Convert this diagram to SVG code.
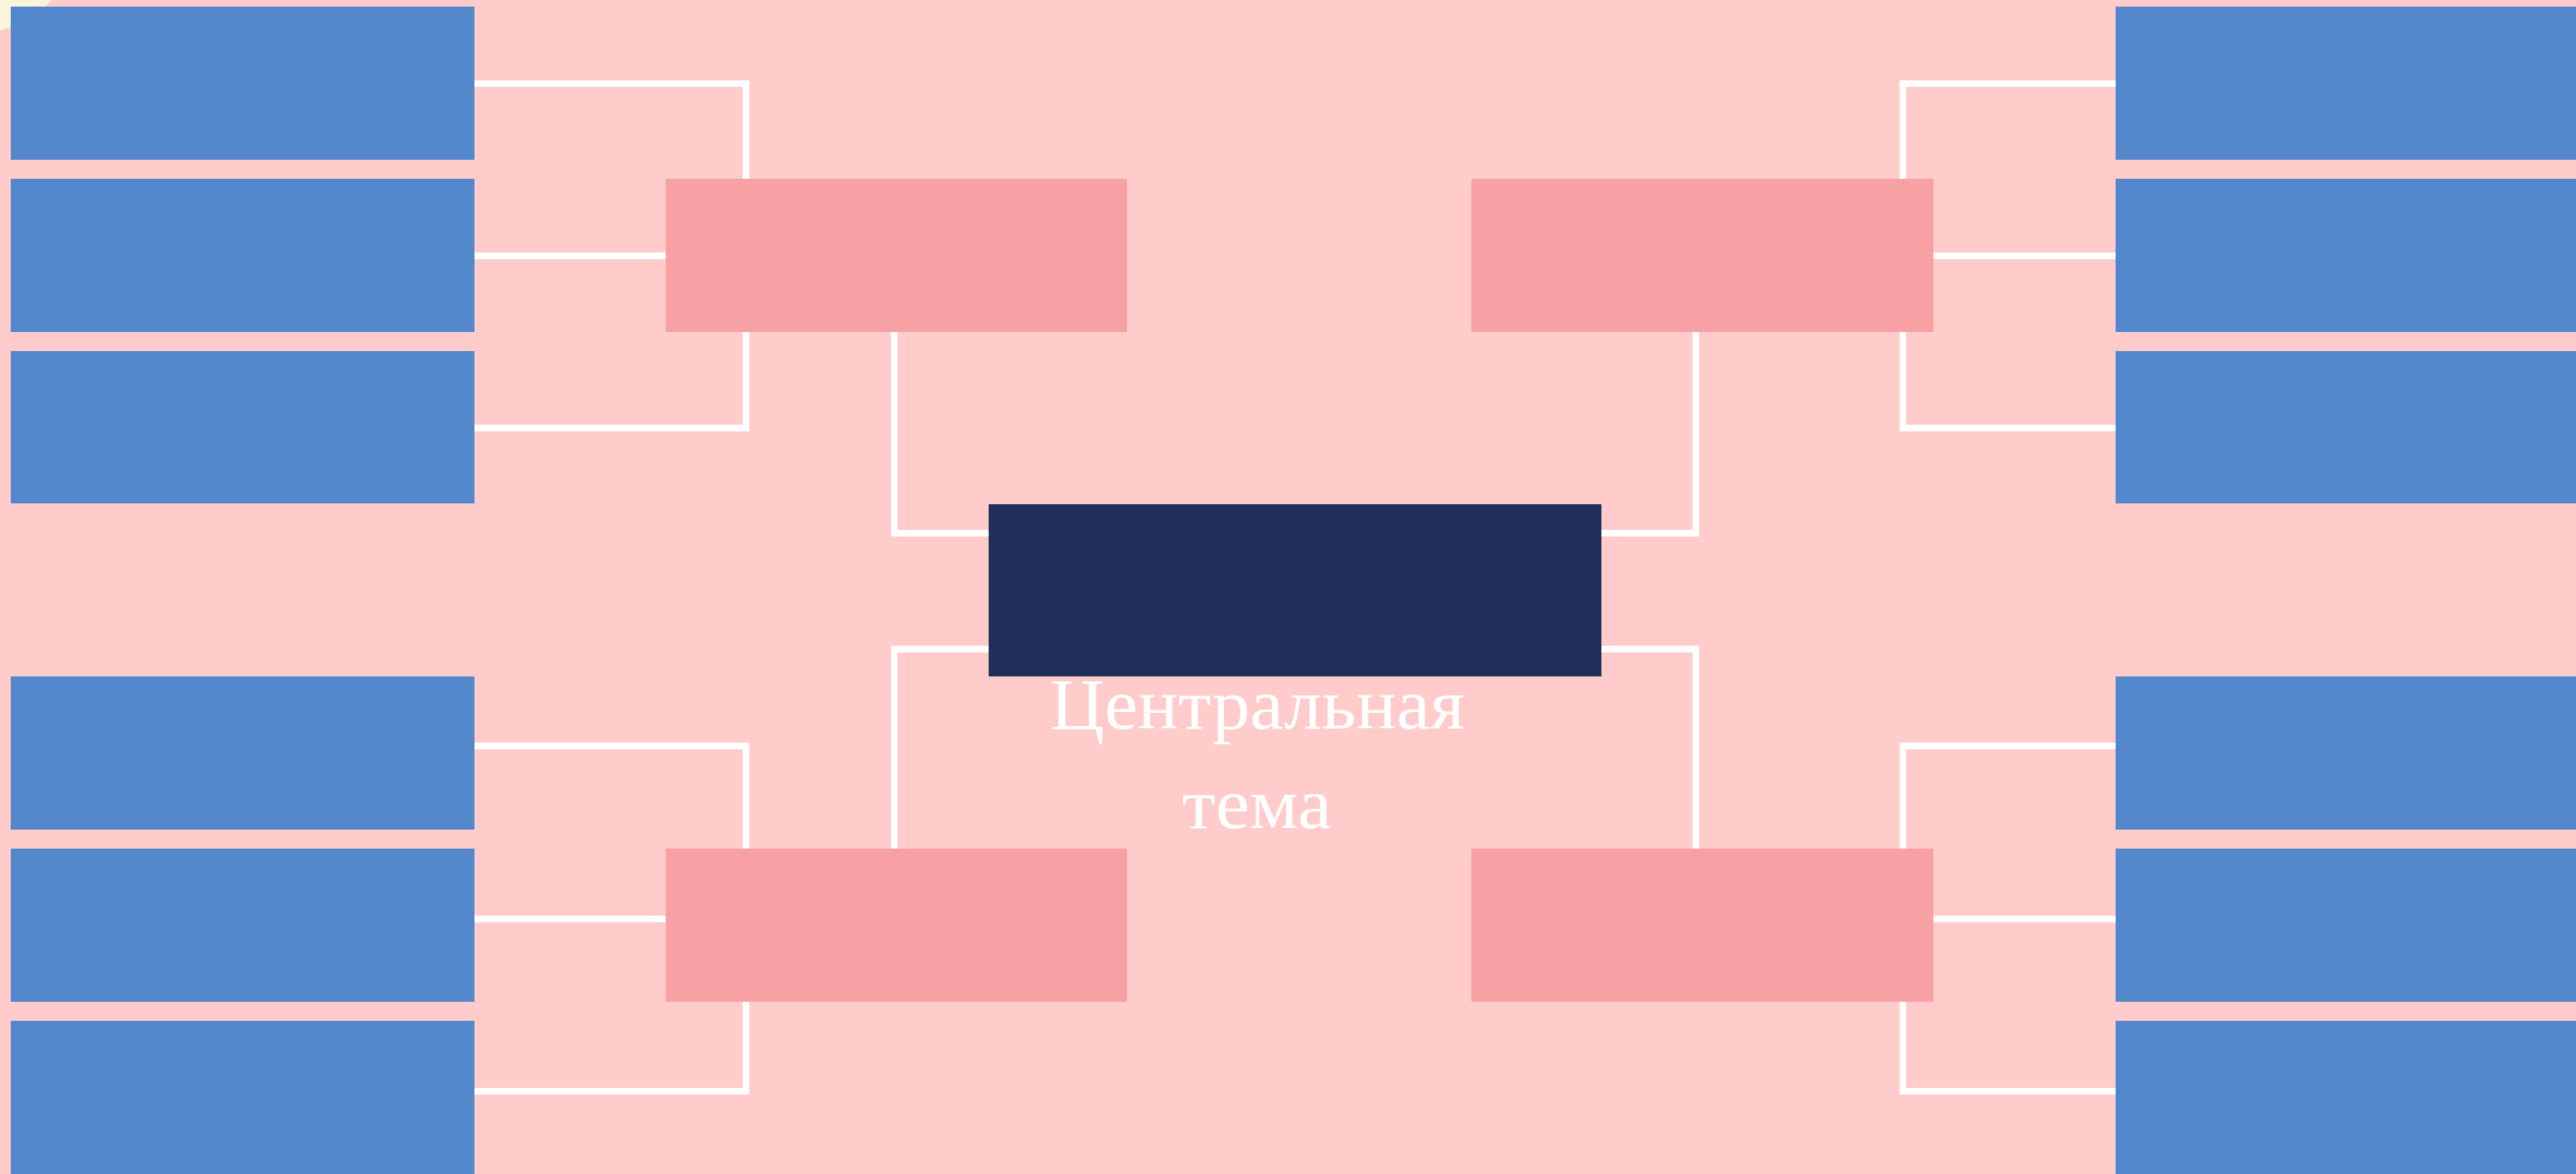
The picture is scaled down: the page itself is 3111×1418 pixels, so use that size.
<svg xmlns="http://www.w3.org/2000/svg" width="3111" height="1418" viewBox="0 0 3111 1418">
<style>
.bg{fill:#FFCBCB}
.leaf{fill:#5387CC}
.branch{fill:#F7A1A4}
.core{fill:#20305B}
.conn{fill:none;stroke:#FFFFFF;stroke-width:8;stroke-linejoin:miter;stroke-linecap:square}
.label{font-family:"Liberation Serif","DejaVu Serif",serif;font-size:87px;fill:#FFFFFF;text-anchor:middle}
</style>
<rect class="bg" x="0" y="0" width="3111" height="1418"/>
<path d="M0,0 L63,0 A148,148 0 0 1 0,37 Z" fill="#FDF5DA"/>
<g id="connectors">
<path class="conn" d="M573,101 H901 V517 H573"/>
<path class="conn" d="M573,309 H804"/>
<path class="conn" d="M573,901 H901 V1318 H573"/>
<path class="conn" d="M573,1110 H804"/>
<path class="conn" d="M2555,101 H2298 V517 H2555"/>
<path class="conn" d="M2335,309 H2555"/>
<path class="conn" d="M2555,901 H2298 V1318 H2555"/>
<path class="conn" d="M2335,1110 H2555"/>
<path class="conn" d="M1080,390 V644 H1200"/>
<path class="conn" d="M1930,644 H2048 V390"/>
<path class="conn" d="M1200,784 H1080 V1030"/>
<path class="conn" d="M1930,784 H2048 V1030"/>
</g>
<g id="leaf-l1"><rect class="leaf" x="13" y="8" width="560" height="185"/></g>
<g id="leaf-l2"><rect class="leaf" x="13" y="216" width="560" height="185"/></g>
<g id="leaf-l3"><rect class="leaf" x="13" y="424" width="560" height="184"/></g>
<g id="leaf-l4"><rect class="leaf" x="13" y="817" width="560" height="185"/></g>
<g id="leaf-l5"><rect class="leaf" x="13" y="1025" width="560" height="185"/></g>
<g id="leaf-l6"><rect class="leaf" x="13" y="1233" width="560" height="185"/></g>
<g id="leaf-r1"><rect class="leaf" x="2555" y="8" width="560" height="185"/></g>
<g id="leaf-r2"><rect class="leaf" x="2555" y="216" width="560" height="185"/></g>
<g id="leaf-r3"><rect class="leaf" x="2555" y="424" width="560" height="184"/></g>
<g id="leaf-r4"><rect class="leaf" x="2555" y="817" width="560" height="185"/></g>
<g id="leaf-r5"><rect class="leaf" x="2555" y="1025" width="560" height="185"/></g>
<g id="leaf-r6"><rect class="leaf" x="2555" y="1233" width="560" height="185"/></g>
<g id="branch-tl"><rect class="branch" x="804" y="216" width="557" height="185"/></g>
<g id="branch-tr"><rect class="branch" x="1777" y="216" width="558" height="185"/></g>
<g id="branch-bl"><rect class="branch" x="804" y="1025" width="557" height="185"/></g>
<g id="branch-br"><rect class="branch" x="1777" y="1025" width="558" height="185"/></g>
<g id="center">
<rect class="core" x="1194" y="609" width="740" height="208"/>
<text class="label" x="1518.5" y="880" textLength="501" lengthAdjust="spacingAndGlyphs">Центральная</text>
<text class="label" x="1518" y="1000" textLength="181" lengthAdjust="spacingAndGlyphs">тема</text>
</g>
</svg>
